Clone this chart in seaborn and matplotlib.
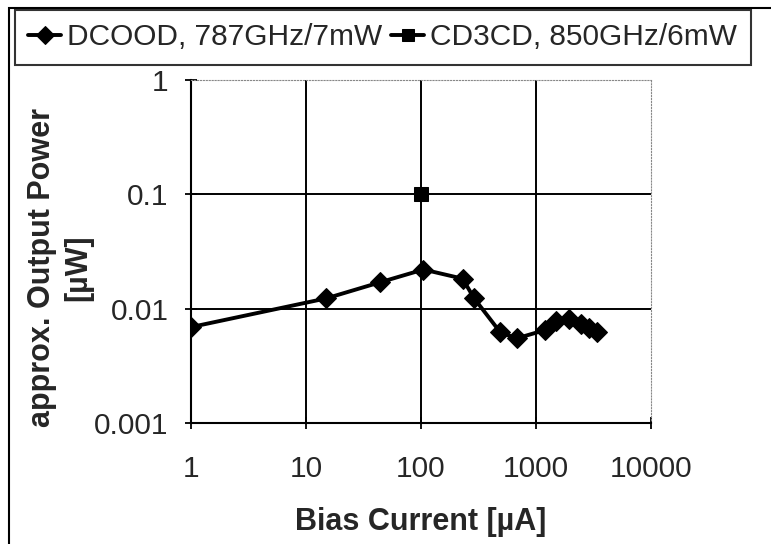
import matplotlib
matplotlib.use("Agg")
import matplotlib.pyplot as plt
import seaborn as sns

# DCOOD, 787GHz/7mW
dc_bias = [1, 15, 44, 105, 230, 290, 490, 680, 1200, 1480, 1950, 2450, 2900, 3400]
dc_power = [0.0069, 0.0123, 0.017, 0.022, 0.0183, 0.0123, 0.0062, 0.0055,
            0.0065, 0.0078, 0.0081, 0.0074, 0.0068, 0.0062]

# CD3CD, 850GHz/6mW
cd_bias = [100]
cd_power = [0.1]

x_ticks = [1, 10, 100, 1000, 10000]
x_labels = ["1", "10", "100", "1000", "10000"]
y_ticks = [0.001, 0.01, 0.1, 1]
y_labels = ["0.001", "0.01", "0.1", "1"]

sns.set_style("white")
plt.rcParams['font.family'] = ['Liberation Sans', 'DejaVu Sans']

fig = plt.figure(figsize=(7.71, 5.44), dpi=100)
ax = fig.add_axes([191 / 771, 1 - 423 / 544, 460 / 771, 343 / 544])

sns.lineplot(x=dc_bias, y=dc_power, ax=ax, color='black', linewidth=2.8,
             marker='D', markersize=10.5, markeredgecolor='black',
             label='DCOOD, 787GHz/7mW', sort=False)
sns.lineplot(x=cd_bias, y=cd_power, ax=ax, color='black', linewidth=2.8,
             marker='s', markersize=10, markeredgecolor='black',
             label='CD3CD, 850GHz/6mW')

ax.set_xscale('log')
ax.set_yscale('log')
ax.set_xlim(1, 10000)
ax.set_ylim(0.001, 1)
ax.set_xticks(x_ticks)
ax.set_xticklabels(x_labels)
ax.set_yticks(y_ticks)
ax.set_yticklabels(y_labels)
ax.minorticks_off()

# gridlines like the Excel chart
for v in [10, 100, 1000]:
    ax.axvline(v, color='black', linewidth=1.4, zorder=0)
for v in [0.01, 0.1]:
    ax.axhline(v, color='black', linewidth=1.4, zorder=0)

for side in ['left', 'bottom']:
    ax.spines[side].set_color('black')
    ax.spines[side].set_linewidth(1.5)
for side in ['top', 'right']:
    ax.spines[side].set_color('#888888')
    ax.spines[side].set_linewidth(0.8)
    ax.spines[side].set_linestyle(':')

ax.tick_params(axis='both', which='major', direction='inout', length=8,
               width=1.3, color='black', labelsize=21.5)
ax.tick_params(axis='y', pad=12, left=True)
ax.tick_params(axis='x', pad=19, bottom=True)

ax.set_xlabel('Bias Current [\u00b5A]', fontsize=22, fontweight='bold')
ax.set_ylabel('approx. Output Power\n[\u00b5W]', fontsize=22, fontweight='bold',
              linespacing=1.25)
ax.xaxis.set_label_coords(0.5, -0.245)
ax.yaxis.set_label_coords(-0.213, 0.452)

handles, labels = ax.get_legend_handles_labels()
ax.get_legend().remove()
leg = fig.legend(handles, labels, loc='upper left', bbox_to_anchor=(15 / 771, 1 - 10 / 544),
                 ncol=2, fontsize=21.5, frameon=True, fancybox=False, edgecolor='black',
                 handlelength=1.1, handletextpad=0.2, columnspacing=0.3,
                 borderpad=0.45, borderaxespad=0, markerscale=0.85)
leg.get_frame().set_linewidth(1.5)

# outer chart border
fig.patches.append(plt.Rectangle((9 / 771, -0.01), 1.0, 1 - 8 / 544 + 0.01,
                                 transform=fig.transFigure, fill=False,
                                 edgecolor='black', linewidth=1.5))

fig.savefig('out.png', dpi=100)
